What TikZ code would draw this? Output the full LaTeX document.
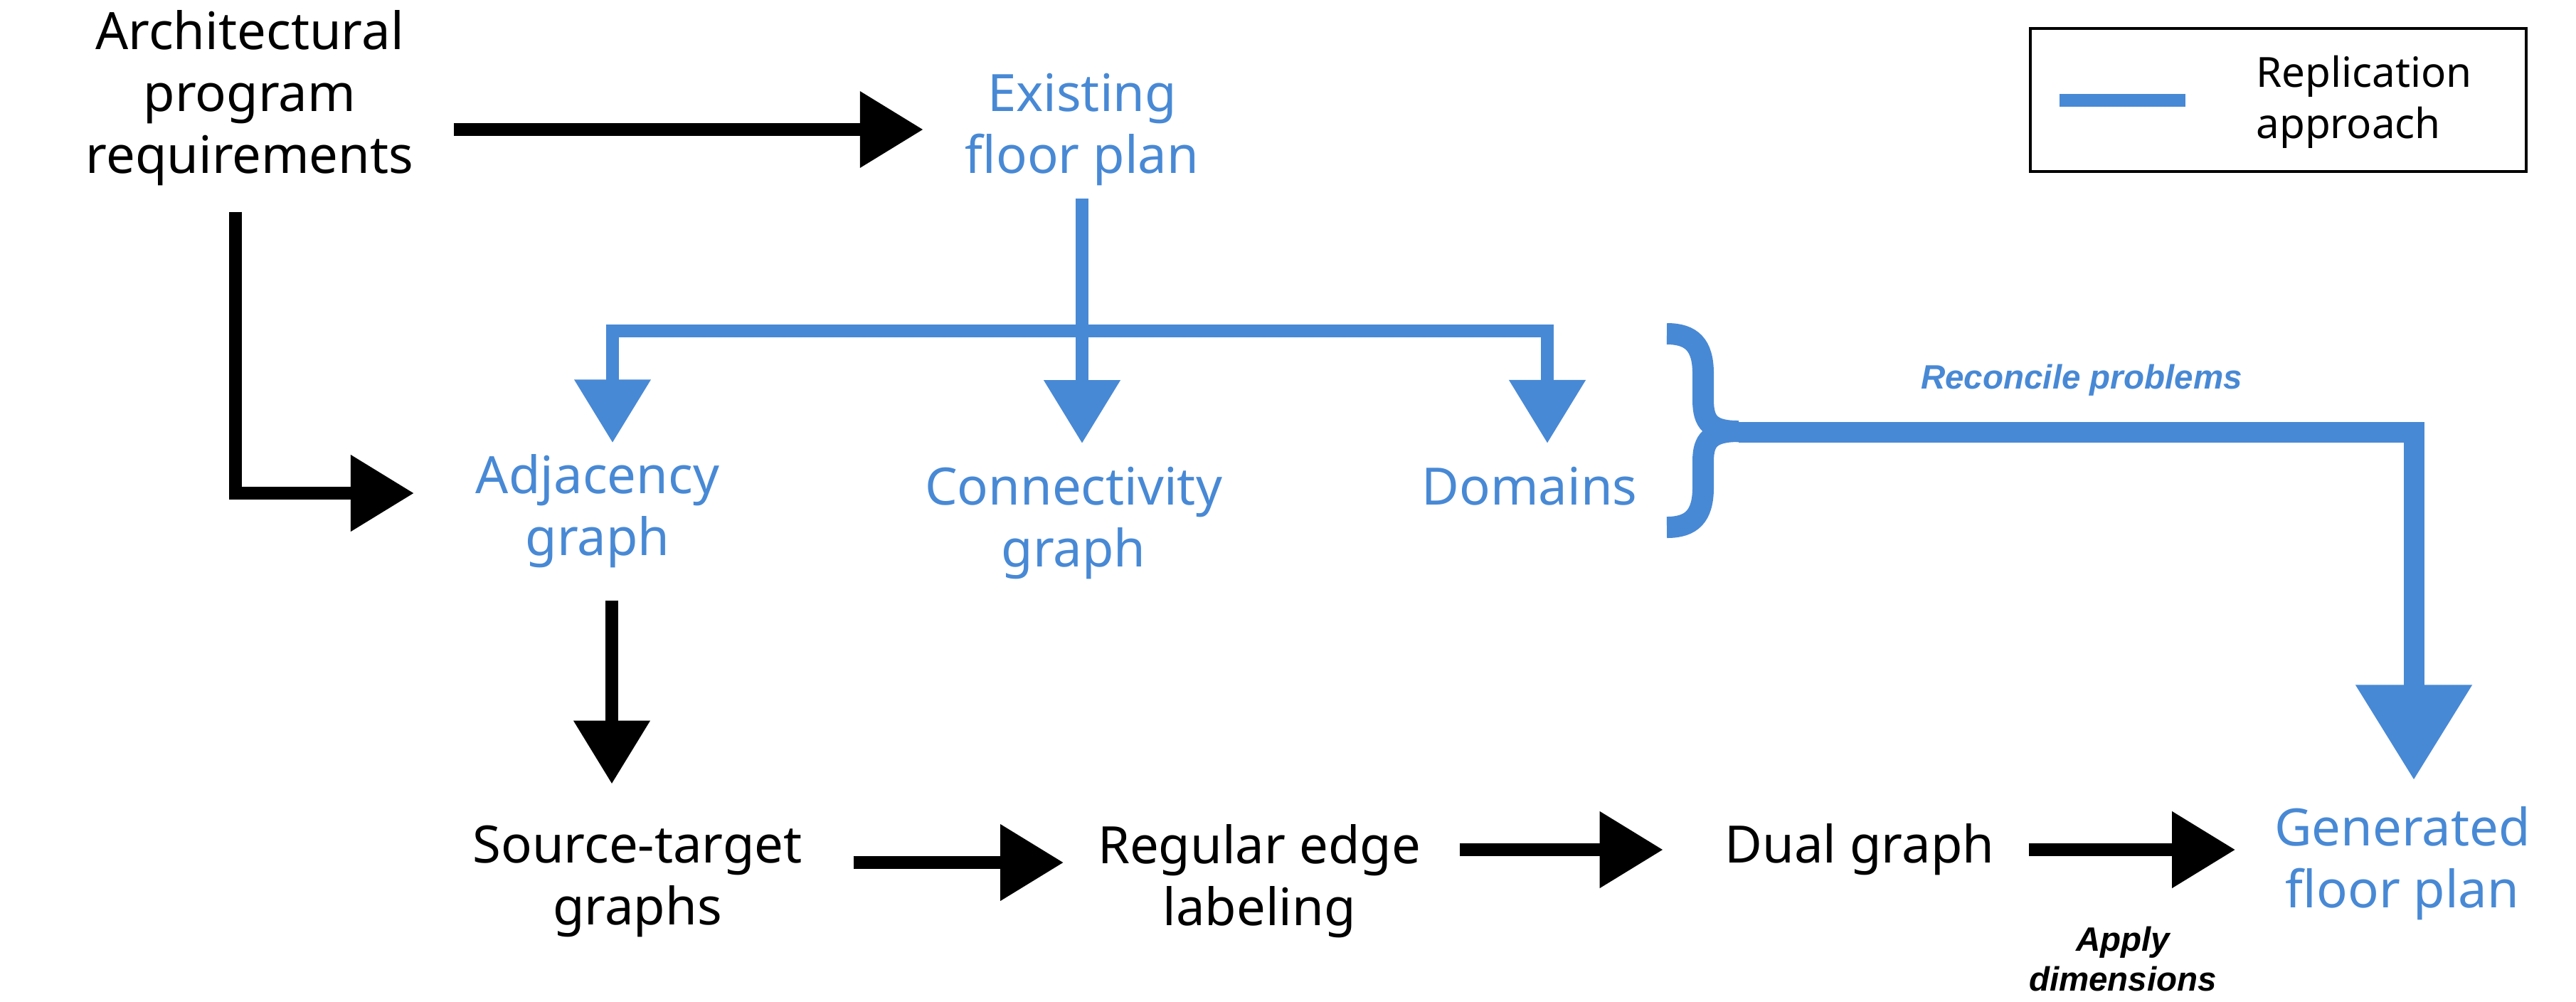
\documentclass[tikz,border=0pt]{standalone}
\usepackage{fontspec}
\setmainfont{Noto Sans}
\newfontfamily\notefont{Liberation Sans}
\usepackage{xcolor}
\usepackage{tikz}
\usetikzlibrary{arrows.meta, positioning, calc}
\definecolor{planblue}{RGB}{72,137,213}
\newcommand{\mainsize}{\fontsize{10.3}{12.38}\selectfont}
\newcommand{\legsize}{\fontsize{8.3}{10.2}\selectfont}
\newcommand{\notesize}{\fontsize{6.76}{7.97}\selectfont}
\tikzset{
  stage/.style={inner sep=0pt, outer sep=0pt, align=center, font=\mainsize},
  bluestage/.style={stage, text=planblue},
  note/.style={inner sep=0pt, outer sep=0pt, align=center, font=\notesize\notefont\bfseries\itshape},
  arrow/.style={-{Triangle[length=4.45mm, width=5.15mm]}, line width=0.9mm, color=black},
  bluearrow/.style={-{Triangle[length=4.45mm, width=5.15mm]}, line width=0.9mm, color=planblue},
  bigarrow/.style={-{Triangle[length=6.7mm, width=7.8mm]}, line width=1.45mm, color=planblue},
  bracepen/.style={line width=1.5mm, color=planblue},
  legline/.style={line width=0.9mm, color=planblue}
}

\begin{document}
\begin{tikzpicture}[x=0.5cm, y=-0.5cm]
  \useasboundingbox (0,0) rectangle (36.21,14.07);

  % Inputs
  \node[stage] (arch) at (3.51,1.375) {Architectural\\program\\requirements};
  \node[bluestage] (exist) at (15.21,1.82) {Existing\\floor plan};

  % Graphs taken from the existing plan
  \node[bluestage] (adj) at (8.40,7.18) {Adjacency\\graph};
  \node[bluestage] (conn) at (15.09,7.35) {Connectivity\\graph};
  \node[bluestage] (dom) at (21.50,6.83) {Domains};

  % Generation pipeline
  \node[stage] (src) at (8.96,12.38) {Source-target\\graphs};
  \node[stage] (reg) at (17.70,12.38) {Regular edge\\labeling};
  \node[stage] (dual) at (26.14,11.94) {Dual graph};
  \node[bluestage] (gen) at (33.77,12.13) {Generated\\floor plan};

  % Bends and forks
  \coordinate (lbend) at (3.31,6.93);
  \coordinate (adjfork) at (8.61,4.65);
  \coordinate (domfork) at (21.75,4.65);
  \coordinate (bracetip) at (24.44,6.06);
  \coordinate (recbend) at (33.93,6.07);
  \coordinate (adjout) at ([xshift=1mm]adj.south);
  \coordinate (srcout) at ([yshift=1.3mm]src.east);
  \coordinate (regin) at ([yshift=1.3mm]reg.west);

  % Program requirements
  \draw[arrow, shorten <=2.85mm, shorten >=2.95mm] (arch.east |- exist.west) -- (exist.west);
  \draw[arrow, shorten <=1.85mm, shorten >=4.35mm] (arch.south -| lbend) -- (lbend) -- (lbend -| adj.west);

  % Replication: existing plan split into three
  \draw[bluearrow, shorten <=0.9mm, shorten >=1.65mm] (exist.south) -- (exist.south |- conn.north);
  \draw[bluearrow, shorten >=0.8mm] (exist.south |- adjfork) -- (adjfork) -- (adjfork |- adj.north);
  \draw[bluearrow, shorten >=1.65mm] (exist.south |- domfork) -- (domfork) -- (domfork |- dom.north);

  % Brace and reconcile
  \draw[bracepen] (23.43,4.69) .. controls (23.78,4.69) and (23.94,4.85) .. (23.94,5.25) -- (23.94,5.62) .. controls (23.94,5.94) and (24.05,6.06) .. (bracetip);
  \draw[bracepen] (23.43,7.41) .. controls (23.78,7.41) and (23.94,7.25) .. (23.94,6.85) -- (23.94,6.48) .. controls (23.94,6.18) and (24.05,6.06) .. (bracetip);
  \draw[bigarrow, shorten >=1.85mm] (bracetip |- recbend) -- (recbend) -- (recbend |- gen.north);
  \node[note, text=planblue, anchor=base] (recon) at (29.26,5.46) {Reconcile problems};

  % Pipeline arrows
  \draw[arrow, shorten <=2.3mm, shorten >=2.9mm] (adjout) -- (adjout |- src.north);
  \draw[arrow, shorten <=3.6mm, shorten >=2.4mm] (srcout) -- (regin);
  \draw[arrow, shorten <=2.75mm, shorten >=4.35mm] (reg.east |- dual.west) -- (dual.west);
  \draw[arrow, shorten <=2.45mm, shorten >=2.75mm] (dual.east) -- (dual.east -| gen.west);
  \node[note] (apply) at (29.84,13.47) {Apply\\dimensions};

  % Legend
  \draw[line width=0.5pt] (28.54,0.40) rectangle (35.51,2.41);
  \draw[legline] (28.95,1.41) -- (30.72,1.41);
  \node[inner sep=0pt, align=left, font=\legsize, anchor=west] (legtxt) at (31.70,1.435) {Replication\\approach};
\end{tikzpicture}
\end{document}
